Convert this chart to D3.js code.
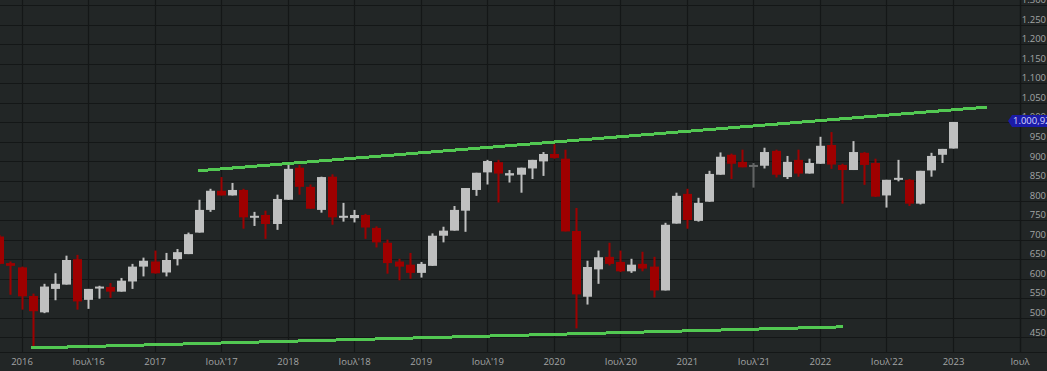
<!DOCTYPE html>
<html>
<head>
<meta charset="utf-8">
<script src="https://cdn.jsdelivr.net/npm/d3@7"></script>
<style>
  html, body { margin: 0; padding: 0; background: #222626; }
  svg { display: block; }
  text { font-family: "Open Sans", "DejaVu Sans", sans-serif; }
</style>
</head>
<body>
<div id="chart"></div>
<script>
// monthly candles, ATHEX general index
var months = ["2015-11","2015-12","2016-01","2016-02","2016-03","2016-04","2016-05","2016-06","2016-07","2016-08","2016-09","2016-10","2016-11","2016-12",
  "2017-01","2017-02","2017-03","2017-04","2017-05","2017-06","2017-07","2017-08","2017-09","2017-10","2017-11","2017-12",
  "2018-01","2018-02","2018-03","2018-04","2018-05","2018-06","2018-07","2018-08","2018-09","2018-10","2018-11","2018-12",
  "2019-01","2019-02","2019-03","2019-04","2019-05","2019-06","2019-07","2019-08","2019-09","2019-10","2019-11","2019-12",
  "2020-01","2020-02","2020-03","2020-04","2020-05","2020-06","2020-07","2020-08","2020-09","2020-10","2020-11","2020-12",
  "2021-01","2021-02","2021-03","2021-04","2021-05","2021-06","2021-07","2021-08","2021-09","2021-10","2021-11","2021-12",
  "2022-01","2022-02","2022-03","2022-04","2022-05","2022-06","2022-07","2022-08","2022-09","2022-10","2022-11","2022-12",
  "2023-01"];
var opens  = [708,640,629,556,514,574,585,650,546,575,579,567,593,631,
  644,616,650,663,718,776,825,813,827,757,763,740,
  802,884,835,776,861,757,755,763,730,692,644,636,
  615,633,710,723,774,827,872,898,864,866,882,900,
  919,907,722,554,624,656,643,619,638,631,570,741,
  817,748,797,866,917,899,887,889,927,860,904,869,
  894,942,891,878,922,896,813,853,853,792,877,917,
  933];
var highs  = [712,644,631,562,587,614,659,661,574,582,589,602,638,654,
  672,666,676,718,802,830,860,845,830,771,774,815,
  891,891,841,861,867,794,776,766,734,700,651,666,
  643,716,733,786,832,871,904,904,878,884,904,924,
  944,930,781,646,672,692,672,651,669,656,743,820,
  830,807,876,923,920,930,896,935,930,914,930,907,
  963,975,894,952,924,907,853,904,855,876,922,932,
  1001];
var lows   = [637,559,521,423,512,545,585,521,523,549,551,567,574,606,
  613,606,634,663,718,771,813,813,728,735,702,725,
  802,815,779,769,738,746,744,702,680,613,596,600,
  603,633,693,723,720,812,841,795,846,820,855,863,
  907,721,473,534,587,634,617,615,619,552,570,741,
  728,746,797,866,855,885,833,882,859,855,861,869,
  894,881,792,878,840,809,782,849,786,790,861,896,
  933];
var closes = [638,633,555,517,580,587,648,542,574,580,567,595,631,646,
  614,648,668,714,776,825,813,827,757,761,740,804,
  881,835,779,860,757,761,763,731,693,640,631,615,
  638,710,723,776,832,871,901,869,870,884,904,919,
  909,721,560,630,655,638,619,636,626,570,738,812,
  750,794,868,912,894,885,891,924,866,899,869,896,
  940,892,878,924,891,810,853,858,792,876,914,932,
  1000.92];
var dimMonth = "2021-07";

// trend lines: [month index from Jan 2016, value]
var upperTrend = [[15.9, 876], [87.1, 1039]];
var lowerTrend = [[0.85, 423], [74.05, 477]];

var yTicks = d3.range(450, 1301, 50);
var xTickIdx = d3.range(0, 91, 6);
var xTickLabels = ["2016","Ιουλ'16","2017","Ιουλ'17","2018","Ιουλ'18","2019","Ιουλ'19",
  "2020","Ιουλ'20","2021","Ιουλ'21","2022","Ιουλ'22","2023","Ιουλ"];
var lastPrice = closes[closes.length - 1];

var W = 1047, H = 371;
var plotR = 1020, plotB = 352;

var gr = d3.formatLocale({decimal: ",", thousands: ".", grouping: [3], currency: ["", "€"]});
var fmtTick = gr.format(",d");
var fmtPrice = gr.format(",.2f");

var data = months.map(function(m, i) {
  var p = m.split("-");
  return {
    m: m,
    idx: (+p[0] - 2016) * 12 + (+p[1] - 1),
    o: opens[i], h: highs[i], l: lows[i], c: closes[i]
  };
});

var x = d3.scaleLinear().domain([0, 84]).range([21.5, 953]);
var y = d3.scaleLinear().domain([450, 1300]).range([337.4, 5]);

var svg = d3.select("#chart").append("svg")
  .attr("width", W).attr("height", H);

svg.append("rect").attr("width", W).attr("height", H).attr("fill", "#222626");

svg.append("defs").append("clipPath").attr("id", "plotclip")
  .append("rect").attr("x", 0).attr("y", 0).attr("width", plotR).attr("height", plotB);

// grid
var grid = svg.append("g").attr("stroke", "#141717").attr("stroke-width", 1.2);
grid.selectAll("line.h").data(yTicks).enter().append("line")
  .attr("x1", 0).attr("x2", W)
  .attr("y1", function(d) { return Math.round(y(d)) + 0.5; })
  .attr("y2", function(d) { return Math.round(y(d)) + 0.5; });
grid.selectAll("line.v").data(xTickIdx).enter().append("line")
  .attr("y1", 0).attr("y2", plotB)
  .attr("x1", function(d) { return Math.round(x(d)) + 0.5; })
  .attr("x2", function(d) { return Math.round(x(d)) + 0.5; });
grid.append("line").attr("x1", 0).attr("x2", W).attr("y1", plotB + 0.5).attr("y2", plotB + 0.5);
grid.append("line").attr("x1", plotR + 0.5).attr("x2", plotR + 0.5).attr("y1", 0).attr("y2", plotB);

var plot = svg.append("g").attr("clip-path", "url(#plotclip)");

// candles
var bodyW = 9, wickW = 2;
var candle = plot.selectAll("g.candle").data(data).enter().append("g")
  .attr("class", "candle")
  .attr("fill", function(d) { return d.c >= d.o ? "#bfc0c0" : "#9e0000"; })
  .attr("opacity", function(d) { return d.m == dimMonth ? 0.45 : 1; });
candle.append("rect")
  .attr("x", function(d) { return Math.round(x(d.idx)) - wickW / 2 + 0.5; })
  .attr("width", wickW)
  .attr("y", function(d) { return y(d.h); })
  .attr("height", function(d) { return y(d.l) - y(d.h); });
candle.append("rect")
  .attr("x", function(d) { return Math.round(x(d.idx)) - bodyW / 2 + 0.5; })
  .attr("width", bodyW)
  .attr("y", function(d) { return y(Math.max(d.o, d.c)); })
  .attr("height", function(d) { return Math.max(2, Math.abs(y(d.o) - y(d.c))); });

// trend lines
var trend = d3.line()
  .x(function(d) { return x(d[0]); })
  .y(function(d) { return y(d[1]); });
[upperTrend, lowerTrend].forEach(function(t) {
  plot.append("path").datum(t)
    .attr("d", trend)
    .attr("fill", "none")
    .attr("stroke", "#52c852")
    .attr("stroke-width", 3)
    .attr("shape-rendering", "crispEdges");
});

// right axis
var yAxis = d3.axisRight(y).tickValues(yTicks).tickSize(0).tickFormat(fmtTick);
var ya = svg.append("g").attr("transform", "translate(" + (W - 1) + ",0)").call(yAxis);
ya.select(".domain").remove();
ya.selectAll("text")
  .attr("x", 0).attr("dy", "-0.25em")
  .attr("text-anchor", "end")
  .attr("fill", "#a3a5a5")
  .style("font-size", "9.5px");

// bottom axis
var xAxis = d3.axisBottom(x).tickValues(xTickIdx).tickSize(0)
  .tickFormat(function(d, i) { return xTickLabels[i]; });
var xa = svg.append("g").attr("transform", "translate(0," + plotB + ")").call(xAxis);
xa.select(".domain").remove();
xa.selectAll("text")
  .attr("y", 6)
  .attr("fill", "#a3a5a5")
  .style("font-size", "9.5px");

// last price tag
var py = y(lastPrice) - 1;
svg.append("path")
  .attr("d", "M1008," + py + "L1012," + (py - 6) + "L" + W + "," + (py - 6) + "L" + W + "," + (py + 6) + "L1012," + (py + 6) + "Z")
  .attr("fill", "#1b1ba8");
svg.append("text")
  .attr("x", 1013).attr("y", py).attr("dy", "0.35em")
  .attr("fill", "#d4d4ff")
  .style("font-size", "9.5px")
  .text(fmtPrice(lastPrice));
</script>
</body>
</html>
